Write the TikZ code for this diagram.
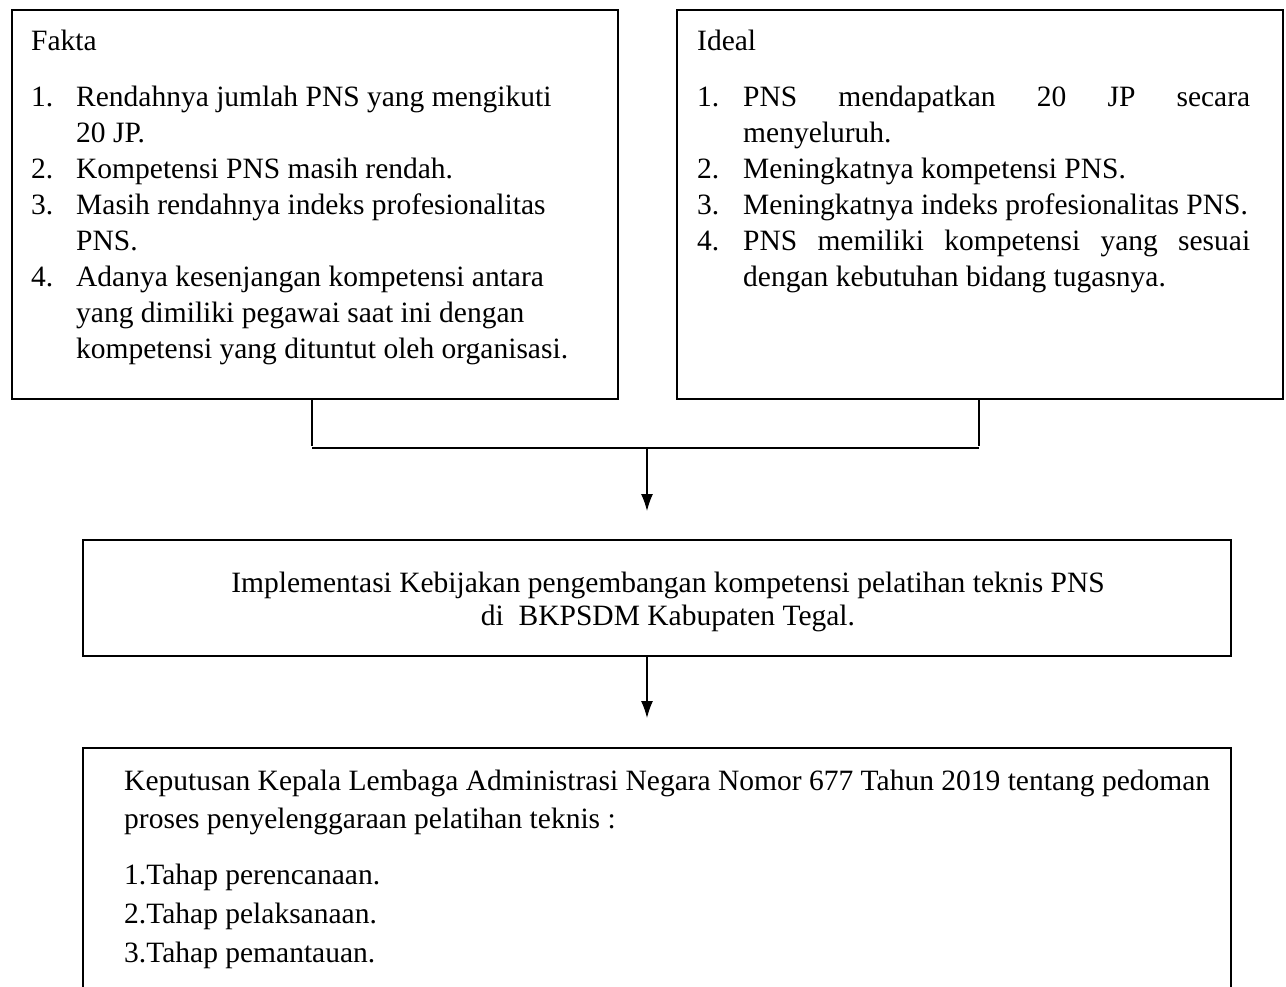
\documentclass[tikz,border=0pt]{standalone}
\usepackage{fontspec}
\setmainfont{Liberation Serif}
\usetikzlibrary{arrows.meta}
\begin{document}
\begin{tikzpicture}[x=1pt,y=-1pt,
  box/.style={draw, line width=2.4pt, inner sep=0pt, anchor=north west},
  txt/.style={anchor=base west, inner sep=0pt},
  ctxt/.style={anchor=base, inner sep=0pt},
  conn/.style={line width=1.2pt},
  hconn/.style={line width=2.2pt},
  arr/.style={line width=1.3pt, -{Latex[length=17pt,width=12pt]}},
  font=\fontsize{29.5}{35.5}\selectfont]
\useasboundingbox (0,0) rectangle (1286,986);
% boxes
\node[box, minimum width=606pt, minimum height=389pt] (fbox) at (11,9) {};
\node[box, minimum width=606pt, minimum height=389pt] (ibox) at (676,9) {};
\node[box, minimum width=1148pt, minimum height=116pt] (mbox) at (82,539) {};
\begin{scope}
\clip (0,0) rectangle (1286,986);
\node[box, minimum width=1148pt, minimum height=320pt] (kbox) at (82,747) {};
\end{scope}
% Fakta
\node[txt] (f0) at (31,50) {Fakta};
\node[txt] (f1n) at (31,106) {1.};
\node[txt] (f1a) at (76,106) {Rendahnya jumlah PNS yang mengikuti};
\node[txt] (f1b) at (76,142) {20 JP.};
\node[txt] (f2n) at (31,178) {2.};
\node[txt] (f2a) at (76,178) {Kompetensi PNS masih rendah.};
\node[txt] (f3n) at (31,214) {3.};
\node[txt] (f3a) at (76,214) {Masih rendahnya indeks profesionalitas};
\node[txt] (f3b) at (76,250) {PNS.};
\node[txt] (f4n) at (31,286) {4.};
\node[txt] (f4a) at (76,286) {Adanya kesenjangan kompetensi antara};
\node[txt] (f4b) at (76,322) {yang dimiliki pegawai saat ini dengan};
\node[txt] (f4c) at (76,358) {kompetensi yang dituntut oleh organisasi.};
% Ideal
\node[txt] (i0) at (697,50) {Ideal};
\node[txt] (i1n) at (697,106) {1.};
\node[txt] (i1a) at (743,106) {\makebox[507pt][s]{PNS mendapatkan 20 JP secara}};
\node[txt] (i1b) at (743,142) {menyeluruh.};
\node[txt] (i2n) at (697,178) {2.};
\node[txt] (i2a) at (743,178) {Meningkatnya kompetensi PNS.};
\node[txt] (i3n) at (697,214) {3.};
\node[txt] (i3a) at (743,214) {Meningkatnya indeks profesionalitas PNS.};
\node[txt] (i4n) at (697,250) {4.};
\node[txt] (i4a) at (743,250) {\makebox[507pt][s]{PNS memiliki kompetensi yang sesuai}};
\node[txt] (i4b) at (743,286) {dengan kebutuhan bidang tugasnya.};
% middle
\node[ctxt] (m1) at (668,592) {Implementasi Kebijakan pengembangan kompetensi pelatihan teknis PNS};
\node[ctxt] (m2) at (668,625) {di\ \ BKPSDM Kabupaten Tegal.};
% bottom
\node[txt] (k1) at (124,790) {Keputusan Kepala Lembaga Administrasi Negara Nomor 677 Tahun 2019 tentang pedoman};
\node[txt] (k2) at (124,828) {proses penyelenggaraan pelatihan teknis :};
\node[txt] (k3) at (124,884) {1.Tahap perencanaan.};
\node[txt] (k4) at (124,923) {2.Tahap pelaksanaan.};
\node[txt] (k5) at (124,962) {3.Tahap pemantauan.};
% connectors
\coordinate (jl) at (312,446);
\coordinate (jr) at (979,446);
\coordinate (hl) at (312,448);
\coordinate (hr) at (979,448);
\coordinate (jm) at (647,448);
\coordinate (a1) at (647,511);
\coordinate (m0) at (647,655);
\coordinate (a2) at (647,718);
\draw[conn] (fbox.south -| jl) -- (jl);
\draw[conn] (ibox.south -| jr) -- (jr);
\draw[hconn] (hl) -- (hr);
\draw[arr] (jm) -- (a1);
\draw[arr] (m0) -- (a2);
\end{tikzpicture}
\end{document}
